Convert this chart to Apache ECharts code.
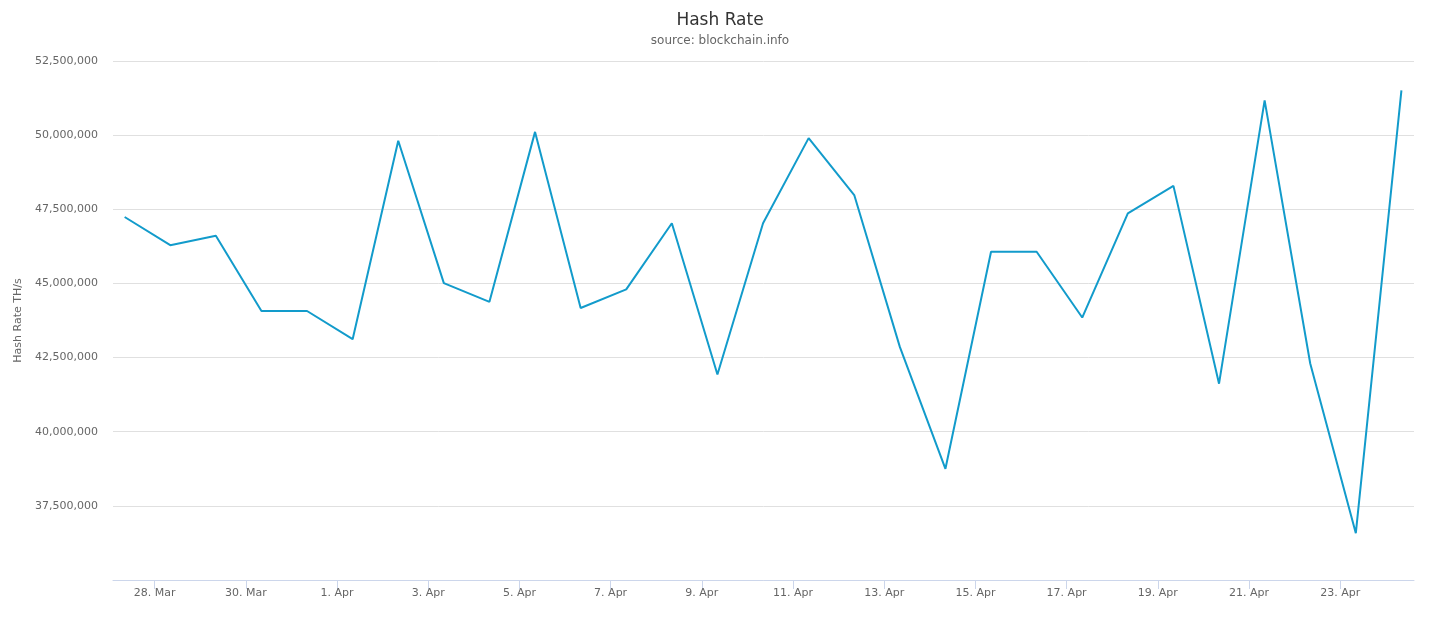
<!DOCTYPE html>
<html>
<head>
<meta charset="utf-8">
<script src="https://cdn.jsdelivr.net/npm/echarts@6/dist/echarts.min.js"></script>
<style>
html,body{margin:0;padding:0;background:#fff;}
#chart{width:1440px;height:621px;}
</style>
</head>
<body>
<div id="chart"></div>
<script>
// ---- data ----
const dates = [
  '2018-03-27','2018-03-28','2018-03-29','2018-03-30','2018-03-31',
  '2018-04-01','2018-04-02','2018-04-03','2018-04-04','2018-04-05',
  '2018-04-06','2018-04-07','2018-04-08','2018-04-09','2018-04-10',
  '2018-04-11','2018-04-12','2018-04-13','2018-04-14','2018-04-15',
  '2018-04-16','2018-04-17','2018-04-18','2018-04-19','2018-04-20',
  '2018-04-21','2018-04-22','2018-04-23','2018-04-24'
];
const sampleTime = 'T08:13:00Z';
const hashRate = [
  47240000, 46290000, 46610000, 44070000, 44070000,
  43120000, 49810000, 45010000, 44380000, 50110000,
  44170000, 44800000, 47030000, 41930000, 47030000,
  49900000, 47980000, 42860000, 38750000, 46070000,
  46070000, 43850000, 47360000, 48290000, 41620000,
  51170000, 42300000, 36580000, 51510000
];
const xTickDates = [
  '2018-03-28','2018-03-30','2018-04-01','2018-04-03','2018-04-05',
  '2018-04-07','2018-04-09','2018-04-11','2018-04-13','2018-04-15',
  '2018-04-17','2018-04-19','2018-04-21','2018-04-23'
];
const xRange = ['2018-03-27T02:05:00Z', '2018-04-24T14:50:00Z'];
const yMin = 35000000, yMax = 52500000, yStep = 2500000;
const monthNames = ['Jan','Feb','Mar','Apr','May','Jun','Jul','Aug','Sep','Oct','Nov','Dec'];

// ---- build ----
const seriesData = dates.map((d, i) => [Date.parse(d + sampleTime), hashRate[i]]);
const tickValues = xTickDates.map(d => Date.parse(d + 'T00:00:00Z'));
const fmtDate = v => { const d = new Date(v); return d.getUTCDate() + '. ' + monthNames[d.getUTCMonth()]; };
const fmtNum = v => String(Math.round(v)).replace(/\B(?=(\d{3})+(?!\d))/g, ',');

const FONT = '"DejaVu Sans", sans-serif';
const chart = echarts.init(document.getElementById('chart'), null, {renderer: 'canvas'});
chart.setOption({
  backgroundColor: '#ffffff',
  animation: false,
  title: {
    text: 'Hash Rate',
    subtext: 'source: blockchain.info',
    left: 'center',
    top: 7,
    itemGap: 6,
    textStyle: {fontFamily: FONT, fontSize: 17, fontWeight: 'normal', color: '#333333'},
    subtextStyle: {fontFamily: FONT, fontSize: 12, color: '#666666'}
  },
  grid: {left: 113, right: 26, top: 61, bottom: 41, containLabel: false},
  xAxis: {
    type: 'value',
    min: Date.parse(xRange[0]),
    max: Date.parse(xRange[1]),
    splitLine: {show: false},
    axisLine: {show: true, lineStyle: {color: '#ccd6eb', width: 1}},
    axisTick: {show: true, length: 9, customValues: tickValues, lineStyle: {color: '#ccd6eb'}},
    axisLabel: {
      customValues: tickValues,
      formatter: fmtDate,
      fontFamily: FONT, fontSize: 11, color: '#666666', margin: 8
    }
  },
  yAxis: {
    type: 'value',
    min: yMin, max: yMax, interval: yStep,
    name: 'Hash Rate TH/s',
    nameLocation: 'middle',
    nameGap: 80,
    nameTextStyle: {fontFamily: FONT, fontSize: 11, color: '#666666'},
    axisLine: {show: false},
    axisTick: {show: false},
    splitLine: {show: true, lineStyle: {color: '#e0e0e0', width: 1}},
    axisLabel: {
      showMinLabel: false,
      formatter: v => v === yMin ? '' : fmtNum(v),
      fontFamily: FONT, fontSize: 11, color: '#666666', margin: 15
    }
  },
  series: [{
    type: 'line',
    data: seriesData,
    showSymbol: false,
    symbol: 'none',
    lineStyle: {color: '#129bcb', width: 2},
    itemStyle: {color: '#129bcb'}
  }]
});
</script>
</body>
</html>
